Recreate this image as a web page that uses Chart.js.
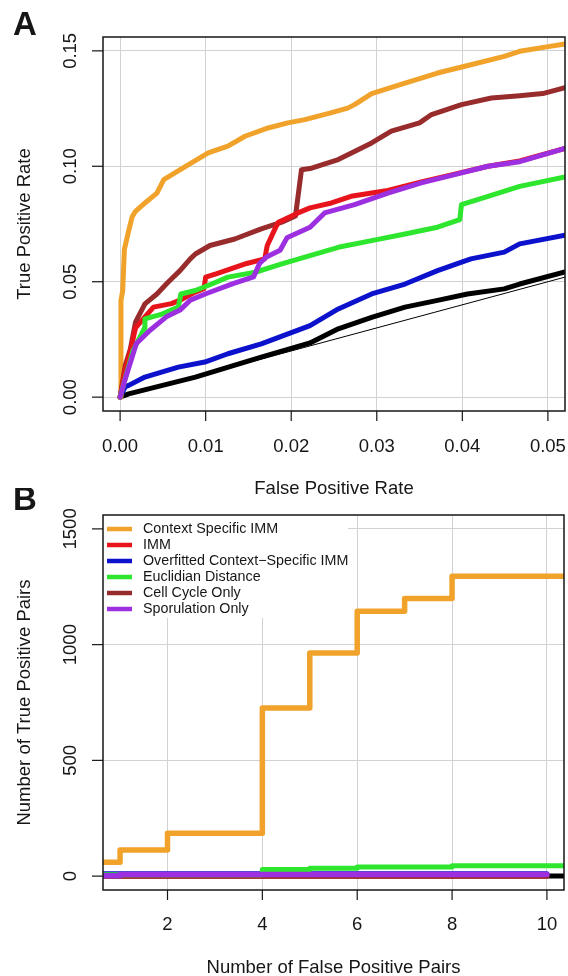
<!DOCTYPE html>
<html>
<head>
<meta charset="utf-8">
<script src="https://cdn.jsdelivr.net/npm/chart.js@4/dist/chart.umd.min.js"></script>
<style>
  html, body { margin: 0; padding: 0; background: #fff; }
  #wrap { position: relative; width: 568px; height: 976px; }
  canvas { position: absolute; left: 0; }
  #rocTop { top: 0; }
  #pairsBottom { top: 488px; }
</style>
</head>
<body>
<div id="wrap">
  <canvas id="rocTop" width="568" height="510"></canvas>
  <canvas id="pairsBottom" width="568" height="488"></canvas>
</div>
<script>
// --- panel A: ROC curves (false positive rate vs true positive rate) ---
const ctxSpecFpr = [0, 0.0001, 0.0003, 0.0005, 0.001, 0.0014, 0.0018, 0.0029, 0.0043, 0.0051, 0.0064, 0.008, 0.0103, 0.0126, 0.0146, 0.0173, 0.0196, 0.0216, 0.0245, 0.0266, 0.0274, 0.0294, 0.0333, 0.0371, 0.041, 0.0449, 0.0467, 0.0495, 0.052];
const ctxSpecTpr = [0, 0.042, 0.046, 0.064, 0.072, 0.078, 0.0805, 0.0841, 0.0884, 0.0942, 0.0971, 0.1007, 0.1058, 0.1087, 0.113, 0.1166, 0.1188, 0.1202, 0.123, 0.1252, 0.1267, 0.1315, 0.136, 0.1404, 0.144, 0.1476, 0.1498, 0.1515, 0.153];

const immFpr = [0, 0.0006, 0.0012, 0.0018, 0.0029, 0.0039, 0.006, 0.007, 0.0085, 0.0098, 0.01, 0.0113, 0.0148, 0.0169, 0.0172, 0.0181, 0.0185, 0.0208, 0.0222, 0.0247, 0.027, 0.0294, 0.0313, 0.0352, 0.0391, 0.043, 0.0467, 0.052];
const immTpr = [0, 0.012, 0.02, 0.03, 0.0348, 0.039, 0.0405, 0.042, 0.045, 0.047, 0.052, 0.0535, 0.0579, 0.0599, 0.0657, 0.0729, 0.0758, 0.0798, 0.082, 0.0841, 0.087, 0.0884, 0.0895, 0.0932, 0.0966, 0.1, 0.1023, 0.1077];

const overfitFpr = [0, 0.0006, 0.001, 0.0029, 0.0068, 0.0099, 0.0126, 0.0165, 0.0222, 0.0255, 0.0294, 0.0333, 0.0371, 0.041, 0.0449, 0.0467, 0.052];
const overfitTpr = [0, 0.0045, 0.0051, 0.0087, 0.013, 0.0152, 0.0188, 0.0231, 0.031, 0.0382, 0.0447, 0.049, 0.0548, 0.0599, 0.0628, 0.0664, 0.0701];

const euclidFpr = [0, 0.0006, 0.0015, 0.0028, 0.0029, 0.0049, 0.0068, 0.0071, 0.0088, 0.0107, 0.0126, 0.0158, 0.0189, 0.0222, 0.0255, 0.0294, 0.0333, 0.0371, 0.0397, 0.0399, 0.043, 0.0467, 0.052];
const euclidTpr = [0, 0.008, 0.02, 0.0296, 0.0339, 0.036, 0.039, 0.0447, 0.0462, 0.049, 0.052, 0.0541, 0.0577, 0.0613, 0.0649, 0.0678, 0.0707, 0.0736, 0.0769, 0.0834, 0.087, 0.0913, 0.0954];

const cellCycleFpr = [0, 0.0006, 0.0012, 0.0018, 0.0029, 0.0043, 0.0056, 0.007, 0.0082, 0.0088, 0.0105, 0.0134, 0.0165, 0.0189, 0.0205, 0.0212, 0.0222, 0.0255, 0.0294, 0.0317, 0.035, 0.0364, 0.0399, 0.0434, 0.0467, 0.0494, 0.052];
const cellCycleTpr = [0, 0.0137, 0.0209, 0.0325, 0.0404, 0.0447, 0.0498, 0.0548, 0.0599, 0.062, 0.0657, 0.0685, 0.0729, 0.0758, 0.0785, 0.0985, 0.099, 0.1029, 0.1101, 0.1152, 0.1188, 0.1224, 0.1267, 0.1296, 0.1306, 0.1315, 0.134];

const sporulFpr = [0, 0.0006, 0.0019, 0.0035, 0.0054, 0.007, 0.0082, 0.0101, 0.0132, 0.0156, 0.0163, 0.0171, 0.0187, 0.0195, 0.0222, 0.0239, 0.0274, 0.0313, 0.0352, 0.0391, 0.043, 0.0467, 0.052];
const sporulTpr = [0, 0.0079, 0.0232, 0.029, 0.0348, 0.0377, 0.042, 0.0449, 0.0492, 0.0521, 0.0579, 0.0607, 0.0636, 0.069, 0.0736, 0.0798, 0.0834, 0.0884, 0.0928, 0.0964, 0.1, 0.102, 0.1077];

const randomFpr = [0, 0.001, 0.0088, 0.0165, 0.0222, 0.0255, 0.0294, 0.0333, 0.0371, 0.0406, 0.0449, 0.0467, 0.052];
const randomTpr = [0, 0.0014, 0.0087, 0.0173, 0.0235, 0.0296, 0.0346, 0.039, 0.0419, 0.0447, 0.0469, 0.049, 0.0542];

const diagonal = [0, 0.06];

const rocXTicks = [0, 0.01, 0.02, 0.03, 0.04, 0.05];
const rocYTicks = [0, 0.05, 0.1, 0.15];

// --- panel B: number of true positive pairs vs false positive pairs ---
const fpPairs = [0, 1, 2, 3, 4, 5, 6, 7, 8, 9, 10, 11];
const ctxSpecPairs = [60, 113, 185, 185, 726, 964, 1144, 1199, 1295, 1295, 1295, 1295];
const euclidPairs = [6, 6, 6, 6, 29, 34, 39, 39, 45, 45, 45, 45];
const overfitPairs = [10, 10, 10, 10, 10, 10, 10, 10, 10, 10, 10];
const sporulPairs = [2, 7, 7, 7, 7, 7, 7, 7, 7, 7, 7];
const immPairs = [0, 0, 0, 0, 0, 0, 0, 0, 0, 0, 0];
const cellCyclePairs = [0, 0, 0, 0, 0, 0, 0, 0, 0, 0, 0];
const randomPairs = [0, 0, 0, 0, 0, 0, 0, 0, 0, 0, 0, 0];

const pairXTicks = [2, 4, 6, 8, 10];
const pairYTicks = [0, 500, 1000, 1500];

const legendLabels = ['Context Specific IMM', 'IMM', 'Overfitted Context\u2212Specific IMM', 'Euclidian Distance', 'Cell Cycle Only', 'Sporulation Only'];
const legendColors = ['#f0a22a', '#e8141c', '#0c12cc', '#2ee62e', '#982c2c', '#9c30e0'];

const FONT = '"Liberation Sans", Arial, Helvetica, sans-serif';
const INK = '#161616';

const pts = (xs, ys) => ys.map((y, i) => ({ x: xs[i], y }));

function line(label, data, color, width, extra) {
  return Object.assign({
    label, data,
    borderColor: color,
    borderWidth: width,
    pointRadius: 0,
    tension: 0,
    fill: false,
    clip: 0,
    borderCapStyle: 'round',
    borderJoinStyle: 'round'
  }, extra || {});
}

// R-style frame: box, outward ticks, rotated y labels, axis titles, panel letter, legend
const rFrame = {
  id: 'rFrame',
  afterDraw(chart, args, o) {
    const { ctx, chartArea: a } = chart;
    const sx = chart.scales.x, sy = chart.scales.y;
    ctx.save();

    if (o.legend) {
      const lg = o.legend;
      ctx.fillStyle = '#fff';
      ctx.fillRect(a.left, a.top, lg.width, lg.height);
      ctx.font = '14.3px ' + FONT;
      ctx.textAlign = 'left';
      ctx.textBaseline = 'middle';
      lg.labels.forEach((txt, i) => {
        const yy = lg.top + i * 16;
        ctx.strokeStyle = lg.colors[i];
        ctx.lineWidth = 4.5;
        ctx.beginPath();
        ctx.moveTo(107, yy);
        ctx.lineTo(132, yy);
        ctx.stroke();
        ctx.fillStyle = INK;
        ctx.fillText(txt, 143, yy + 0.5);
      });
    }

    ctx.strokeStyle = INK;
    ctx.lineWidth = 1.5;
    ctx.strokeRect(a.left, a.top, a.right - a.left, a.bottom - a.top);

    ctx.lineWidth = 1.2;
    ctx.fillStyle = INK;
    ctx.font = '18.5px ' + FONT;
    ctx.textAlign = 'center';
    ctx.textBaseline = 'middle';

    o.xTicks.forEach(v => {
      const px = sx.getPixelForValue(v);
      ctx.beginPath();
      ctx.moveTo(px, a.bottom);
      ctx.lineTo(px, a.bottom + 10);
      ctx.stroke();
      ctx.fillText(o.xFmt(v), px, o.xLabelY);
    });

    o.yTicks.forEach(v => {
      const py = sy.getPixelForValue(v);
      ctx.beginPath();
      ctx.moveTo(a.left - 11, py);
      ctx.lineTo(a.left, py);
      ctx.stroke();
      ctx.save();
      ctx.translate(71, py);
      ctx.rotate(-Math.PI / 2);
      ctx.fillText(o.yFmt(v), 0, 0);
      ctx.restore();
    });

    ctx.fillText(o.xTitle, (a.left + a.right) / 2, o.xTitleY);
    ctx.save();
    ctx.translate(25, (a.top + a.bottom) / 2);
    ctx.rotate(-Math.PI / 2);
    ctx.fillText(o.yTitle, 0, 0);
    ctx.restore();

    ctx.font = 'bold 33px ' + FONT;
    ctx.textAlign = 'left';
    ctx.textBaseline = 'alphabetic';
    ctx.fillText(o.letter, 13, o.letterY);
    ctx.restore();
  }
};

function scaleOpts(min, max, ticks, horizontal) {
  return {
    type: 'linear',
    min, max,
    afterBuildTicks: s => { s.ticks = ticks.map(v => ({ value: v })); },
    afterFit: s => { if (horizontal) s.height = 0; else s.width = 0; },
    ticks: { display: false },
    border: { display: false },
    grid: { color: '#d2d2d2', lineWidth: 1, drawTicks: false }
  };
}

function baseOptions(padding, xs, ys, frame) {
  return {
    responsive: false,
    animation: false,
    events: [],
    layout: { padding },
    scales: { x: xs, y: ys },
    plugins: { legend: { display: false }, tooltip: { enabled: false }, rFrame: frame }
  };
}

// panel A
new Chart(document.getElementById('rocTop'), {
  type: 'line',
  data: {
    datasets: [
      line('Sporulation Only', pts(sporulFpr, sporulTpr), legendColors[5], 5),
      line('Euclidian Distance', pts(euclidFpr, euclidTpr), legendColors[3], 5),
      line('IMM', pts(immFpr, immTpr), legendColors[1], 5),
      line('Cell Cycle Only', pts(cellCycleFpr, cellCycleTpr), legendColors[4], 5),
      line('Context Specific IMM', pts(ctxSpecFpr, ctxSpecTpr), legendColors[0], 5),
      line('Overfitted Context-Specific IMM', pts(overfitFpr, overfitTpr), legendColors[2], 5),
      line('Random', pts(randomFpr, randomTpr), '#000', 5),
      line('Diagonal', pts(diagonal, diagonal), '#000', 1)
    ]
  },
  options: baseOptions(
    { left: 103, top: 37, right: 3, bottom: 99 },
    scaleOpts(-0.002, 0.052, rocXTicks, true),
    scaleOpts(-0.006, 0.156, rocYTicks, false),
    {
      xTicks: rocXTicks, yTicks: rocYTicks,
      xFmt: v => v.toFixed(2), yFmt: v => v.toFixed(2),
      xLabelY: 447, xTitleY: 489,
      xTitle: 'False Positive Rate', yTitle: 'True Positive Rate',
      letter: 'A', letterY: 35
    }
  ),
  plugins: [rFrame]
});

// panel B
new Chart(document.getElementById('pairsBottom'), {
  type: 'line',
  data: {
    datasets: [
      line('Context Specific IMM', pts(fpPairs, ctxSpecPairs), legendColors[0], 5.5, { stepped: 'before' }),
      line('Sporulation Only', pts(fpPairs, sporulPairs), legendColors[5], 5.5, { stepped: 'before' }),
      line('Euclidian Distance', pts(fpPairs, euclidPairs), legendColors[3], 5, { stepped: 'before' }),
      line('Overfitted Context-Specific IMM', pts(fpPairs, overfitPairs), legendColors[2], 5, { stepped: 'before' }),
      line('Cell Cycle Only', pts(fpPairs, cellCyclePairs), legendColors[4], 5, { stepped: 'before' }),
      line('IMM', pts(fpPairs, immPairs), legendColors[1], 5, { stepped: 'before' }),
      line('Random', pts(fpPairs, randomPairs), '#000', 5, { stepped: 'before' })
    ]
  },
  options: baseOptions(
    { left: 103, top: 27, right: 4, bottom: 86 },
    scaleOpts(0.64, 10.36, pairXTicks, true),
    scaleOpts(-60, 1560, pairYTicks, false),
    {
      xTicks: pairXTicks, yTicks: pairYTicks,
      xFmt: v => String(v), yFmt: v => String(v),
      xLabelY: 437, xTitleY: 480,
      xTitle: 'Number of False Positive Pairs', yTitle: 'Number of True Positive Pairs',
      letter: 'B', letterY: 22,
      legend: { labels: legendLabels, colors: legendColors, top: 41, width: 245, height: 103 }
    }
  ),
  plugins: [rFrame]
});
</script>
</body>
</html>
